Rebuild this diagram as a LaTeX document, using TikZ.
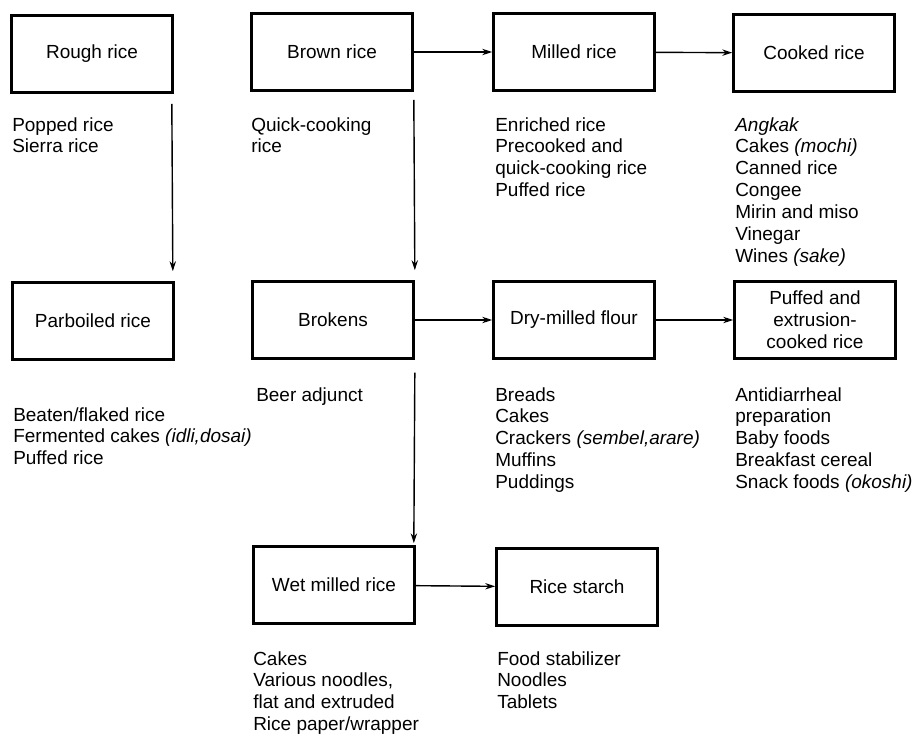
\documentclass[tikz,border=0pt]{standalone}
\usepackage{fontspec}
\setmainfont{Liberation Sans}
\usetikzlibrary{arrows.meta}

\begin{document}
\begin{tikzpicture}[x=0.025cm, y=-0.025cm,
    every node/.style={font=\fontsize{13.5}{15.6}\selectfont},
    box/.style={draw, line width=2pt, minimum width=4.02cm, minimum height=1.92cm, align=center, inner sep=2pt},
    lst/.style={anchor=north west, inner sep=0pt, align=left},
    flow/.style={-{Stealth[length=7pt,width=4.5pt]}, line width=1pt}]
        \useasboundingbox (0,0) rectangle (917,735);

        % process boxes
        \node[box] (rough)  at (92,54)   {Rough rice};
        \node[box] (brown)  at (332,52)  {Brown rice};
        \node[box] (milled) at (574,52)  {Milled rice};
        \node[box] (cooked) at (814,53)  {Cooked rice};
        \node[box] (parb)   at (93,321)  {Parboiled rice};
        \node[box] (brok)   at (333,320) {Brokens};
        \node[box] (dry)    at (574,320) {Dry-milled flour};
        \node[box] (puff)   at (815,320) {Puffed and\\extrusion-\\cooked rice};
        \node[box] (wet)    at (334,585) {Wet milled rice};
        \node[box] (starch) at (577,587) {Rice starch};

        % products
        \node[lst] (lrough)  at (12,117)  {Popped rice\\Sierra rice};
        \node[lst] (lbrown)  at (251,117) {Quick-cooking\\rice};
        \node[lst] (lmilled) at (495,117) {Enriched rice\\Precooked and\\quick-cooking rice\\Puffed rice};
        \node[lst] (lcooked) at (735,117) {\textit{Angkak}\\Cakes \textit{(mochi)}\\Canned rice\\Congee\\Mirin and miso\\Vinegar\\Wines \textit{(sake)}};
        \node[lst] (lparb)   at (13,407)  {Beaten/flaked rice\\Fermented cakes \textit{(idli,dosai)}\\Puffed rice};
        \node[lst] (lbrok)   at (256,387) {Beer adjunct};
        \node[lst] (ldry)    at (495,387) {Breads\\Cakes\\Crackers \textit{(sembel,arare)}\\Muffins\\Puddings};
        \node[lst] (lpuff)   at (735,387) {Antidiarrheal\\preparation\\Baby foods\\Breakfast cereal\\Snack foods \textit{(okoshi)}};
        \node[lst] (lwet)    at (253,651) {Cakes\\Various noodles,\\flat and extruded\\Rice paper/wrapper};
        \node[lst] (lstarch) at (497,651) {Food stabilizer\\Noodles\\Tablets};

        % flows
        \draw[flow] ([xshift=-0.05cm,yshift=-0.25cm]rough.south east) -- ([xshift=-0.05cm,yshift=0.25cm]parb.north east);
        \draw[flow] ([yshift=-0.2cm]brown.south east) -- ([yshift=0.25cm]brok.north east);
        \draw[flow] ([yshift=-0.32cm]brok.south east) -- ([xshift=-0.05cm,yshift=0.05cm]wet.north east);
        \draw[flow] (brown) -- (milled);
        \draw[flow] (milled) -- (cooked);
        \draw[flow] (brok.east) -- (dry.west);
        \draw[flow] (dry) -- (puff);
        \draw[flow] (wet) -- (starch);
    \end{tikzpicture}
\end{document}
